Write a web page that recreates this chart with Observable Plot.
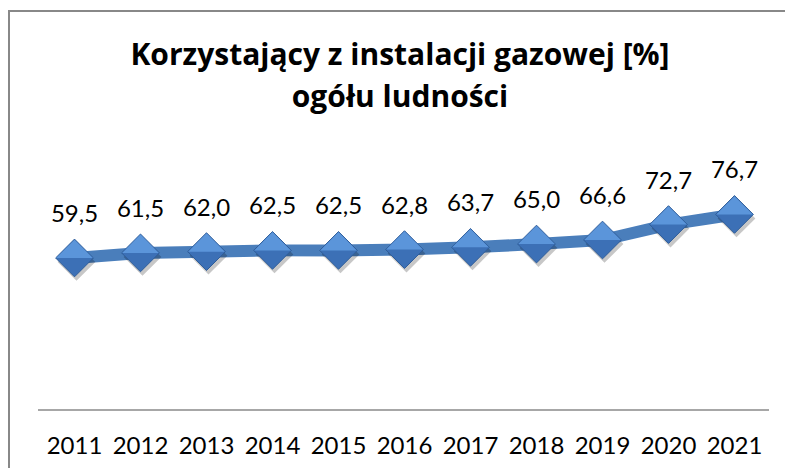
<!DOCTYPE html>
<html>
<head>
<meta charset="utf-8">
<script src="https://cdn.jsdelivr.net/npm/d3@7"></script>
<script src="https://cdn.jsdelivr.net/npm/@observablehq/plot@0.6"></script>
<style>
  html, body { margin: 0; padding: 0; background: #fff; }
  body { width: 785px; height: 468px; overflow: hidden; position: relative; font-family: Lato, "Open Sans", sans-serif; }
  #frame { position: absolute; left: 8px; top: 10px; width: 900px; height: 600px; border: 2px solid #888; box-sizing: border-box; pointer-events: none; }
  #title { position: relative; height: 130px; width: 800px; box-sizing: border-box; padding-top: 33px; text-align: center; font-family: "Open Sans", Lato, sans-serif; font-weight: bold; font-size: 30px; line-height: 42px; color: #000; }
  #chart svg { display: block; }
</style>
</head>
<body>
<div id="frame"></div>
<div id="title">Korzystający z instalacji gazowej [%]<br>ogółu ludności</div>
<div id="chart"></div>
<script>
const years = ["2011", "2012", "2013", "2014", "2015", "2016", "2017", "2018", "2019", "2020", "2021"];
const values = [59.5, 61.5, 62.0, 62.5, 62.5, 62.8, 63.7, 65.0, 66.6, 72.7, 76.7];
const labels = ["59,5", "61,5", "62,0", "62,5", "62,5", "62,8", "63,7", "65,0", "66,6", "72,7", "76,7"];

const data = years.map((y, i) => ({year: y, value: values[i], label: labels[i]}));

const topHalf = {
  draw(ctx, size) {
    const r = Math.sqrt(size) * 0.62625;
    ctx.moveTo(0, -r);
    ctx.lineTo(r, 0);
    ctx.lineTo(-r, 0);
    ctx.closePath();
  }
};

const R = 17;
const chart = Plot.plot({
  width: 785,
  height: 338,
  marginLeft: 38,
  marginRight: 16,
  marginTop: 25,
  marginBottom: 60,
  style: {fontFamily: "Lato, 'Open Sans', sans-serif", fontSize: "24px", color: "#000", background: "transparent", overflow: "visible"},
  x: {type: "band", domain: years, padding: 0, tickSize: 0, tickPadding: 28, label: null},
  y: {domain: [0, 100], axis: null},
  marks: [
    Plot.ruleY([0], {stroke: "#8a8a8a", strokeWidth: 1.5, dy: 1.5}),
    Plot.line(data, {x: "year", y: "value", stroke: "#4a7ebb", strokeWidth: 12, strokeLinejoin: "round"}),
    Plot.dot(data, {x: "year", y: "value", symbol: "diamond2", r: R, fill: "#000", fillOpacity: 0.22, dx: 2, dy: 4}),
    Plot.dot(data, {x: "year", y: "value", symbol: "diamond2", r: R, fill: "#3c70b6", stroke: "#2f5d99", strokeWidth: 1}),
    Plot.dot(data, {x: "year", y: "value", symbol: topHalf, r: R * 0.97, fill: "#5b95da"}),
    Plot.text(data, {x: "year", y: "value", text: "label", dy: -36, lineAnchor: "bottom", fontSize: 24, fill: "#000"})
  ]
});
document.getElementById("chart").appendChild(chart);
</script>
</body>
</html>
